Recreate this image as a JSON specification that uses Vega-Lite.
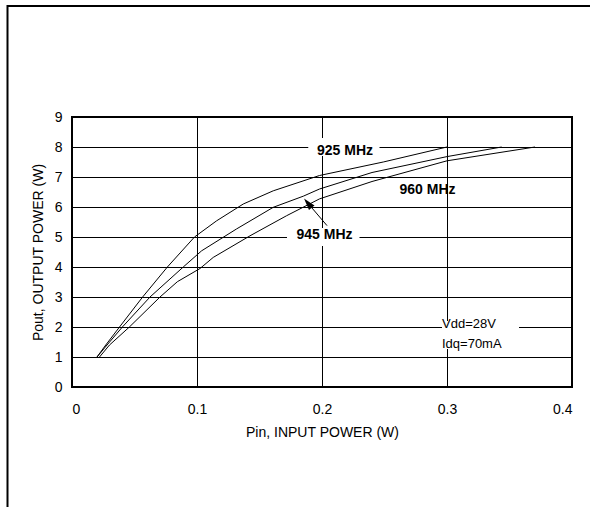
{
  "$schema": "https://vega.github.io/schema/vega-lite/v6.json",
  "width": 500,
  "height": 270,
  "autosize": {"type": "none"},
  "padding": {"left": 72, "top": 117, "right": 18, "bottom": 120},
  "background": "white",
  "config": {
    "view": {"stroke": "#000", "strokeWidth": 2},
    "font": "Liberation Sans",
    "axis": {
      "labelFont": "Liberation Sans",
      "titleFont": "Liberation Sans",
      "labelFontSize": 14,
      "titleFontSize": 14,
      "titleFontWeight": "normal",
      "labelColor": "#000",
      "titleColor": "#000",
      "gridColor": "#000",
      "gridOpacity": 1,
      "gridWidth": 1,
      "domain": false,
      "ticks": false,
      "labelOverlap": false
    }
  },
  "datasets": {
    "curves": [
      {"freq": "925 MHz", "pin": 0.02, "pout": 1},
      {"freq": "925 MHz", "pin": 0.027, "pout": 1.4},
      {"freq": "925 MHz", "pin": 0.038, "pout": 2},
      {"freq": "925 MHz", "pin": 0.0565, "pout": 3},
      {"freq": "925 MHz", "pin": 0.0763, "pout": 4},
      {"freq": "925 MHz", "pin": 0.098, "pout": 5},
      {"freq": "925 MHz", "pin": 0.1157, "pout": 5.54},
      {"freq": "925 MHz", "pin": 0.137, "pout": 6.1},
      {"freq": "925 MHz", "pin": 0.161, "pout": 6.54},
      {"freq": "925 MHz", "pin": 0.198, "pout": 7.05},
      {"freq": "925 MHz", "pin": 0.249, "pout": 7.5},
      {"freq": "925 MHz", "pin": 0.3, "pout": 8},
      {"freq": "945 MHz", "pin": 0.02, "pout": 1},
      {"freq": "945 MHz", "pin": 0.028, "pout": 1.4},
      {"freq": "945 MHz", "pin": 0.0403, "pout": 2},
      {"freq": "945 MHz", "pin": 0.0624, "pout": 3},
      {"freq": "945 MHz", "pin": 0.089, "pout": 4},
      {"freq": "945 MHz", "pin": 0.1037, "pout": 4.54},
      {"freq": "945 MHz", "pin": 0.1317, "pout": 5.27},
      {"freq": "945 MHz", "pin": 0.161, "pout": 5.99},
      {"freq": "945 MHz", "pin": 0.185, "pout": 6.36},
      {"freq": "945 MHz", "pin": 0.198, "pout": 6.6},
      {"freq": "945 MHz", "pin": 0.24, "pout": 7.15},
      {"freq": "945 MHz", "pin": 0.3, "pout": 7.68},
      {"freq": "945 MHz", "pin": 0.3437, "pout": 8},
      {"freq": "960 MHz", "pin": 0.022, "pout": 1},
      {"freq": "960 MHz", "pin": 0.03, "pout": 1.4},
      {"freq": "960 MHz", "pin": 0.0459, "pout": 2},
      {"freq": "960 MHz", "pin": 0.0704, "pout": 3},
      {"freq": "960 MHz", "pin": 0.0843, "pout": 3.51},
      {"freq": "960 MHz", "pin": 0.1024, "pout": 3.95},
      {"freq": "960 MHz", "pin": 0.113, "pout": 4.32},
      {"freq": "960 MHz", "pin": 0.1424, "pout": 5.04},
      {"freq": "960 MHz", "pin": 0.1717, "pout": 5.71},
      {"freq": "960 MHz", "pin": 0.198, "pout": 6.27},
      {"freq": "960 MHz", "pin": 0.24, "pout": 6.85},
      {"freq": "960 MHz", "pin": 0.3, "pout": 7.54},
      {"freq": "960 MHz", "pin": 0.3704, "pout": 8}
    ],
    "frame": [
      {"pin": -0.0516, "pin2": 0.4224, "pout": 12.7, "pout2": 12.7},
      {"pin": -0.0516, "pin2": -0.0516, "pout": 12.73, "pout2": -5}
    ],
    "masks": [
      {"pin": 0.189, "pin2": 0.246, "pout": 7.7, "pout2": 8.3},
      {"pin": 0.172, "pin2": 0.23, "pout": 4.7, "pout2": 5.3},
      {"pin": 0.296, "pin2": 0.3576, "pout": 1.27, "pout2": 2.2}
    ],
    "arrowLine": [
      {"pin": 0.204, "pin2": 0.1887, "pout": 5.38, "pout2": 6.127}
    ],
    "arrowHead": [
      {"pin": 0.1887, "pout": 6.127}
    ],
    "freqLabels": [
      {"pin": 0.2184, "pout": 7.87, "text": "925 MHz"},
      {"pin": 0.202, "pout": 5.07, "text": "945 MHz"},
      {"pin": 0.2844, "pout": 6.58, "text": "960 MHz"}
    ],
    "condLabels": [
      {"pin": 0.296, "pout": 2.1, "text": "Vdd=28V"},
      {"pin": 0.296, "pout": 1.43, "text": "Idq=70mA"}
    ]
  },
  "encoding": {
    "x": {
      "field": "pin", "type": "quantitative",
      "scale": {"domain": [0, 0.4], "nice": false, "zero": false},
      "axis": {
        "values": [0, 0.1, 0.2, 0.3, 0.4],
        "format": "~g",
        "title": "Pin, INPUT POWER (W)",
        "labelPadding": 15,
        "titleX": 250,
        "titleY": 45,
        "titleAlign": "center",
        "titleBaseline": "middle"
      }
    },
    "y": {
      "field": "pout", "type": "quantitative",
      "scale": {"domain": [0, 9], "nice": false, "zero": false},
      "axis": {
        "values": [0, 1, 2, 3, 4, 5, 6, 7, 8, 9],
        "format": "d",
        "title": "Pout, OUTPUT POWER (W)",
        "labelPadding": 10,
        "titleX": -34,
        "titleY": 135,
        "titleAlign": "center",
        "titleBaseline": "middle"
      }
    }
  },
  "layer": [
    {
      "data": {"name": "frame"},
      "mark": {"type": "rule", "color": "#000", "strokeWidth": 2, "clip": false},
      "encoding": {
        "x2": {"field": "pin2"},
        "y2": {"field": "pout2"}
      }
    },
    {
      "data": {"name": "masks"},
      "mark": {"type": "rect", "color": "white"},
      "encoding": {
        "x2": {"field": "pin2"},
        "y2": {"field": "pout2"}
      }
    },
    {
      "data": {"name": "curves"},
      "mark": {"type": "line", "color": "#000", "strokeWidth": 1},
      "encoding": {
        "detail": {"field": "freq"}
      }
    },
    {
      "data": {"name": "arrowLine"},
      "mark": {"type": "rule", "color": "#000", "strokeWidth": 1},
      "encoding": {
        "x2": {"field": "pin2"},
        "y2": {"field": "pout2"}
      }
    },
    {
      "data": {"name": "arrowHead"},
      "mark": {"type": "point", "shape": "M0,-1L0.6,1L-0.6,1Z", "size": 144, "angle": 320, "filled": true, "color": "#000", "opacity": 1},
      "encoding": {}
    },
    {
      "data": {"name": "freqLabels"},
      "mark": {"type": "text", "font": "Liberation Sans", "fontSize": 14, "fontWeight": "bold", "align": "center", "baseline": "middle", "color": "#000"},
      "encoding": {
        "text": {"field": "text"}
      }
    },
    {
      "data": {"name": "condLabels"},
      "mark": {"type": "text", "font": "Liberation Sans", "fontSize": 13, "align": "left", "baseline": "middle", "color": "#000"},
      "encoding": {
        "text": {"field": "text"}
      }
    }
  ]
}
